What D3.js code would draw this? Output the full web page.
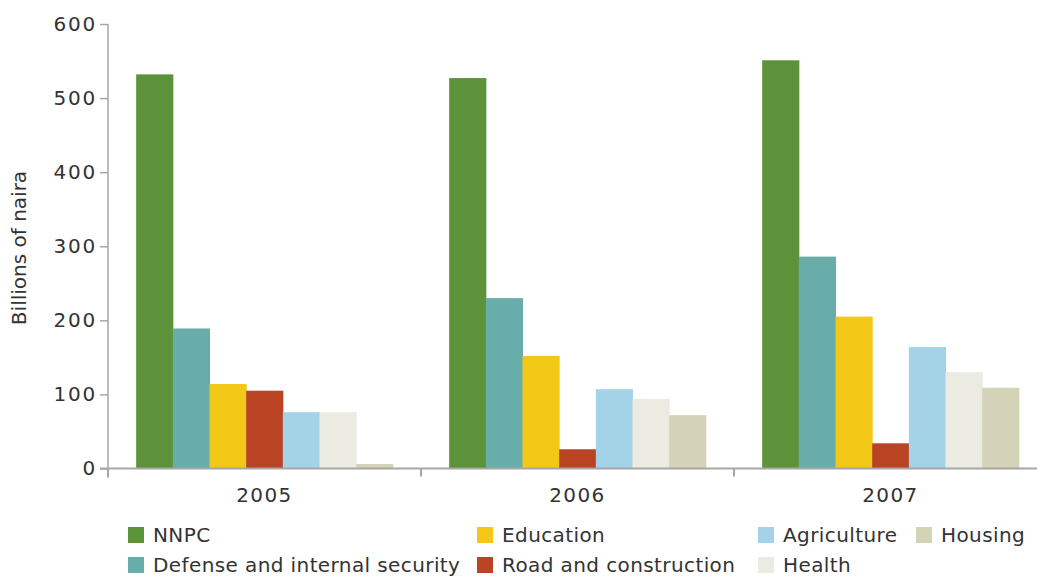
<!DOCTYPE html>
<html><head><meta charset="utf-8">
<script src="https://cdn.jsdelivr.net/npm/d3@7"></script>
<style>body{margin:0;background:#fff}svg{display:block}text{font-family:"DejaVu Sans",sans-serif;fill:#333}</style>
</head><body>
<script>
const years = ["2005","2006","2007"];
const seriesNames = ["NNPC","Defense and internal security","Education","Road and construction","Agriculture","Health","Housing"];
const nnpc = [532, 527, 551];
const defense = [189, 230, 286];
const education = [114, 152, 205];
const road = [105, 26, 34];
const agriculture = [76, 107, 164];
const health = [76, 94, 130];
const housing = [6, 72, 109];
const yTicks = [0,100,200,300,400,500,600];
const colors = ["#5b923a","#69adab","#f3c716","#b94322","#a4d2e6","#ebebe2","#d4d2b7"];
const seriesValues = [nnpc, defense, education, road, agriculture, health, housing];

const W=1037,H=576;
const svg=d3.select("body").append("svg").attr("width",W).attr("height",H);
const x0=d3.scaleBand().domain(years).range([108,1047]).paddingInner(0.18).paddingOuter(0.09);
const x1=d3.scaleBand().domain(seriesNames).range([0,x0.bandwidth()]);
const y=d3.scaleLinear().domain([0,600]).range([468.5,24]);

// bars
years.forEach((yr,i)=>{
  svg.append("g").selectAll("rect").data(seriesNames).join("rect")
    .attr("x",s=>x0(yr)+x1(s)).attr("width",x1.bandwidth()+0.5)
    .attr("y",(s,j)=>y(seriesValues[j][i])).attr("height",(s,j)=>y(0)-y(seriesValues[j][i]))
    .attr("fill",(s,j)=>colors[j]);
});

// y axis
const ya=svg.append("g").attr("transform","translate(108,0)").call(d3.axisLeft(y).tickValues(yTicks).tickSize(8).tickPadding(3));
ya.select(".domain").remove();
ya.append("line").attr("x1",0).attr("x2",0).attr("y1",24).attr("y2",478).attr("stroke","#a6a6a6").attr("stroke-width",1.5);
ya.selectAll(".tick line").attr("stroke","#a6a6a6").attr("stroke-width",1.5);
ya.selectAll(".tick text").style("font-size","20px").style("letter-spacing","1.8px").attr("fill","#333");

// x axis
svg.append("line").attr("x1",100).attr("x2",W).attr("y1",y(0)).attr("y2",y(0)).attr("stroke","#a6a6a6").attr("stroke-width",2);
const xa=svg.append("g").attr("transform",`translate(0,${y(0)})`).call(d3.axisBottom(x0).tickSize(0).tickPadding(19));
xa.select(".domain").remove();
xa.selectAll(".tick text").style("font-size","20px").style("letter-spacing","1.4px").attr("fill","#333");
svg.append("g").selectAll("line").data(years).join("line")
  .attr("x1",d=>x0(d)-x0.step()*0.09).attr("x2",d=>x0(d)-x0.step()*0.09)
  .attr("y1",y(0)).attr("y2",y(0)+8).attr("stroke","#a6a6a6").attr("stroke-width",2);

// y label
svg.append("text").attr("transform","translate(26,248) rotate(-90)").attr("text-anchor","middle")
  .style("font-size","20px").text("Billions of naira");

// legend
const legPos=[[128,535],[128,565],[477,535],[477,565],[758,535],[758,565],[916,535]];
const lg=svg.append("g").selectAll("g").data(seriesNames).join("g")
  .attr("transform",(d,i)=>`translate(${legPos[i][0]},${legPos[i][1]})`);
lg.append("rect").attr("x",0).attr("y",-8).attr("width",16).attr("height",16).attr("fill",(d,i)=>colors[i]);
lg.append("text").attr("x",25).attr("y",0).attr("dy","0.36em").style("font-size","20px").style("letter-spacing","0.4px").text(d=>d);
</script>
</body></html>
